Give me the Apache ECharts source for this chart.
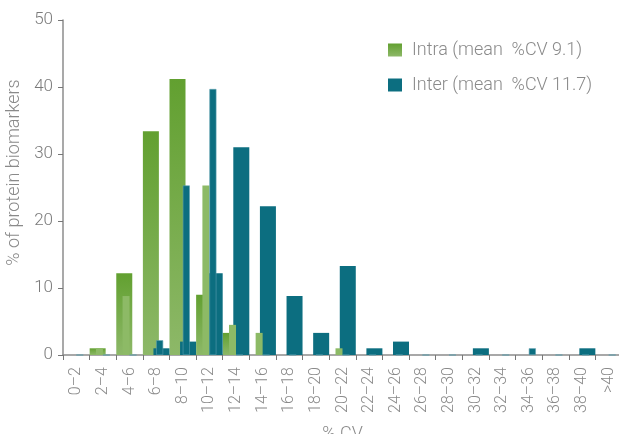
<!DOCTYPE html>
<html>
<head>
<meta charset="utf-8">
<script src="https://cdn.jsdelivr.net/npm/echarts@6/dist/echarts.min.js"></script>
<style>html,body{margin:0;padding:0;background:#fff}#c{width:619px;height:434px}</style>
</head>
<body>
<div id="c"></div>
<script>
const categories = ['0–2','2–4','4–6','6–8','8–10','10–12','12–14','14–16','16–18','18–20','20–22','22–24','24–26','26–28','28–30','30–32','32–34','34–36','36–38','38–40','>40'];
const yTicks = [0, 10, 20, 30, 40, 50];
// main (wide) bars
const intraValues = [0, 1, 12.2, 33.4, 41.2, 9, 3.3, 0, 0, 0, 0, 0, 0, 0, 0, 0, 0, 0, 0, 0, 0];
const interValues = [0, 0, 0, 1, 2, 12.2, 31, 22.2, 8.8, 3.3, 13.3, 1, 2, 0, 0, 1, 0, 0, 0, 1, 0];
// overlaid narrow bars visible in the figure
const intraOverlay = [0, 1, 8.8, 0, 0, 25.3, 4.5, 3.3, 0, 0, 1, 0, 0, 0, 0, 0, 0, 0, 0, 0, 0];
const interOverlay = [0, 0, 0, 2.2, 25.3, 39.7, 0, 0, 0, 0, 0, 0, 0, 0, 0, 0, 0, 1, 0, 0, 0];

const FONT = 'Roboto';
const grey = '#8a8a8a';
const greenGrad = new echarts.graphic.LinearGradient(0, 0, 0, 1, [
  {offset: 0, color: '#62a030'}, {offset: 1, color: '#8db868'}
]);
const lightGreen = '#8dba66';
const teal = '#0c6e80';

const chart = echarts.init(document.getElementById('c'), null, {renderer: 'canvas'});
chart.setOption({
  animation: false,
  textStyle: {fontFamily: FONT},
  grid: {left: 63, right: -3, top: 20, bottom: 79, containLabel: false, outerBoundsMode: 'none'},
  legend: {
    data: ['Intra (mean  %CV 9.1)', 'Inter (mean  %CV 11.7)'],
    orient: 'vertical',
    left: 383, top: 36,
    itemWidth: 14, itemHeight: 13, itemGap: 17,
    icon: 'rect',
    textStyle: {color: grey, fontSize: 18, fontFamily: FONT, fontWeight: 300, padding: [0, 0, 0, 5]}
  },
  xAxis: [{
    type: 'category', data: categories, boundaryGap: true,
    name: '% CV', nameLocation: 'middle', nameGap: 70,
    nameTextStyle: {color: grey, fontSize: 18, fontWeight: 300},
    axisLine: {lineStyle: {color: '#8c8c8c', width: 1.5}},
    axisTick: {show: true, length: 5, alignWithLabel: false, interval: 0, lineStyle: {color: '#777'}},
    axisLabel: {rotate: 90, interval: 0, color: grey, fontSize: 16, fontWeight: 300, margin: 12}
  }, {
    type: 'category', data: categories, show: false, boundaryGap: true
  }],
  yAxis: {
    type: 'value', min: 0, max: 50, interval: 10,
    name: '% of protein biomarkers', nameLocation: 'middle', nameGap: 35, nameRotate: 90,
    nameTextStyle: {color: grey, fontSize: 18, fontWeight: 300, padding: [0, 0, 0, 30]},
    splitLine: {show: false},
    axisLine: {show: true, lineStyle: {color: '#8c8c8c', width: 1.5}},
    axisTick: {show: true, length: 5, lineStyle: {color: '#777'}},
    axisLabel: {color: '#7a7a7a', fontSize: 17, fontWeight: 300, margin: 10,
      formatter: v => yTicks.includes(v) ? String(v) : ''}
  },
  series: [
    {name: 'Intra (mean  %CV 9.1)', type: 'bar', xAxisIndex: 0, data: intraValues,
      barWidth: 16, barGap: '-34%', itemStyle: {color: greenGrad}},
    {name: 'Inter (mean  %CV 11.7)', type: 'bar', xAxisIndex: 0, data: interValues,
      barWidth: 16, barGap: '-34%', itemStyle: {color: teal}},
    {name: 'intraOverlay', type: 'bar', xAxisIndex: 1, data: intraOverlay,
      barWidth: 7, barGap: '0%', itemStyle: {color: lightGreen}, z: 3},
    {name: 'interOverlay', type: 'bar', xAxisIndex: 1, data: interOverlay,
      barWidth: 7, barGap: '0%', itemStyle: {color: teal, borderColor: '#5d9fae', borderWidth: 0.6}, z: 3}
  ]
});
</script>
</body>
</html>
